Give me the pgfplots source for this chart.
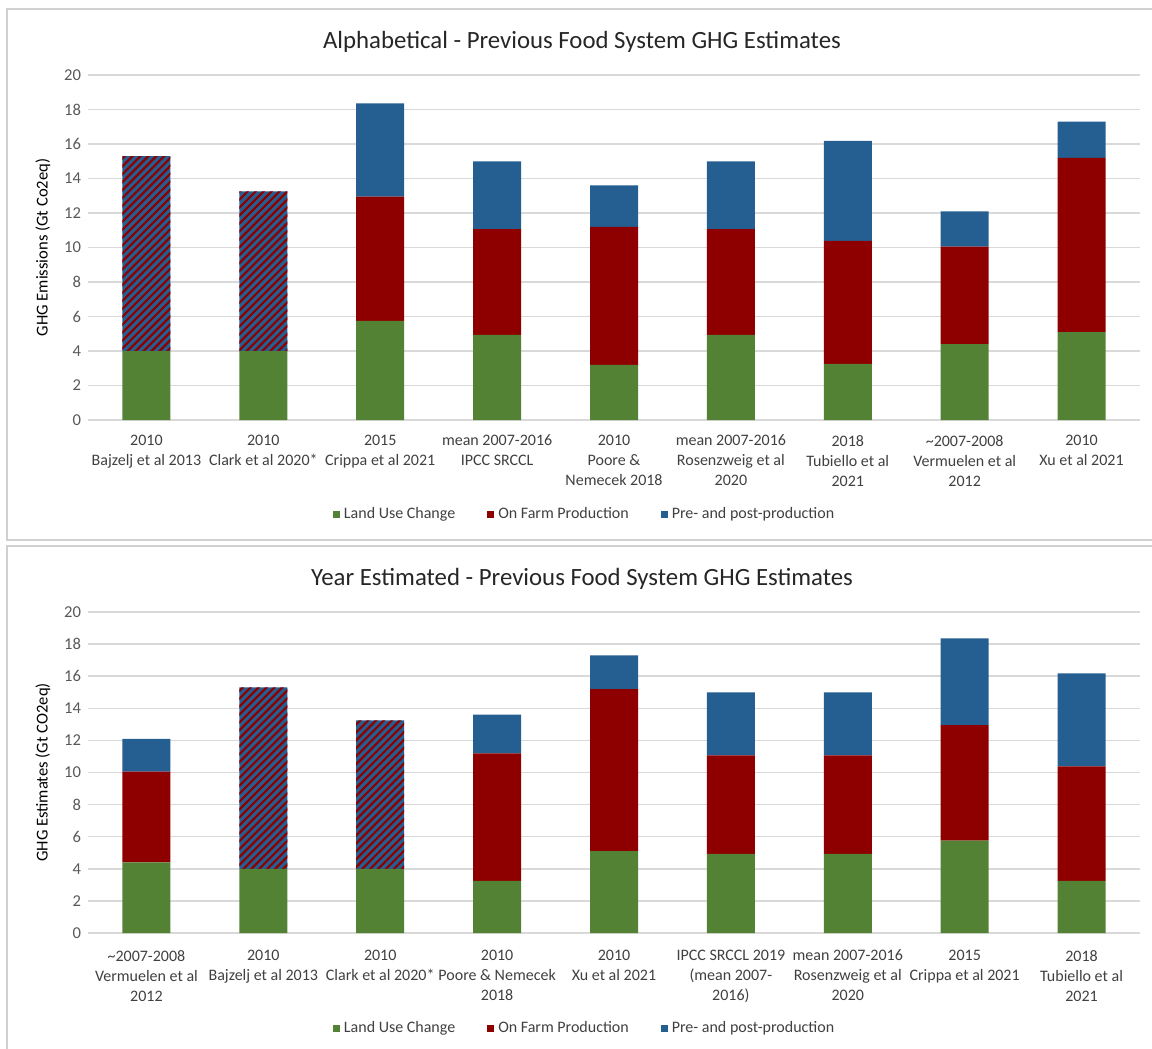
\documentclass[border=0pt]{standalone}
\usepackage{pgfplots}
\pgfplotsset{compat=1.18}
\usepackage{fontspec}
\setmainfont{Carlito}
\usetikzlibrary{patterns.meta}
\definecolor{luc}{HTML}{548235}
\definecolor{farm}{HTML}{8E0000}
\definecolor{pre}{HTML}{255E91}
\definecolor{gridc}{HTML}{D9D9D9}
\definecolor{framec}{HTML}{D0D0D0}
\definecolor{txt}{HTML}{595959}
\definecolor{txtd}{HTML}{404040}
\pgfplotsset{ghg/.style={
  scale only axis, width=526pt,
  xmin=-0.5, xmax=8.5, ymin=0, ymax=20, ytick={0,2,...,20},
  ybar stacked, bar width=24pt,
  axis line style={draw=none}, tick style={draw=none},
  ymajorgrids, grid style={gridc, line width=0.75pt},
  xtick={0,...,8},
  xticklabel style={align=center, font=\fontsize{8}{10}\selectfont, text=txtd, yshift=-4pt},
  yticklabel style={font=\fontsize{8.3}{10}\selectfont, text=txt},
  /pgf/number format/assume math mode=true,
  ylabel style={font=\fontsize{8.3}{10}\selectfont, text=black},
  title style={font=\fontsize{12.4}{14}\selectfont, text=black!85, anchor=center, at={(0.5,1)}, yshift=10.5pt, xshift=-16pt},
  legend style={draw=none, fill=none, legend columns=-1, font=\fontsize{8}{10}\selectfont, text=txtd, anchor=center,
    /tikz/every even column/.append style={column sep=14pt}},
  legend image code/.code={\fill[##1] (0pt,-1.75pt) rectangle (3.5pt,1.75pt);},
  hatch/.style={fill=pre, draw=none, postaction={pattern color=farm, pattern={Lines[angle=45,distance=2.8pt,line width=1.1pt]}}},
}}
\begin{document}
\begin{tikzpicture}
\path[use as bounding box] (0pt,0pt) rectangle (576pt,-524.5pt);
\draw[framec, line width=0.75pt] (3.5pt,-4.5pt) rectangle (590pt,-270pt);
\draw[framec, line width=0.75pt] (3.5pt,-273pt) rectangle (590pt,-540pt);
% Top chart
\begin{axis}[ghg, at={(44pt,-210pt)}, anchor=south west, height=172.5pt,
  title={Alphabetical - Previous Food System GHG Estimates},
  ylabel={GHG Emissions (Gt Co2eq)},
  xticklabels={{2010\\Bajzelj et al 2013},{2010\\Clark et al 2020*},{2015\\Crippa et al 2021},{mean 2007-2016\\IPCC SRCCL},{2010\\Poore \&\\Nemecek 2018},{mean 2007-2016\\Rosenzweig et al\\2020},{2018\\Tubiello et al\\2021},{\textasciitilde2007-2008\\Vermuelen et al\\2012},{2010\\Xu et al 2021}},
  legend style={at={(0.473,-0.275)}}]
\addplot[fill=luc, draw=none] coordinates {(0,4.0) (1,4.0) (2,5.75) (3,4.93) (4,3.2) (5,4.93) (6,3.25) (7,4.4) (8,5.1)};
\addplot[fill=farm, draw=none] coordinates {(0,0) (1,0) (2,7.2) (3,6.14) (4,8.0) (5,6.14) (6,7.13) (7,5.65) (8,10.1)};
\addplot[fill=pre, draw=none] coordinates {(0,0) (1,0) (2,5.4) (3,3.93) (4,2.4) (5,3.93) (6,5.8) (7,2.05) (8,2.1)};
\addplot[hatch] coordinates {(0,11.3) (1,9.25) (2,0) (3,0) (4,0) (5,0) (6,0) (7,0) (8,0)};
\legend{Land Use Change, On Farm Production, Pre- and post-production}
\end{axis}
% Bottom chart
\begin{axis}[ghg, at={(44pt,-466.5pt)}, anchor=south west, height=160.5pt,
  title={Year Estimated - Previous Food System GHG Estimates},
  ylabel={GHG Estimates (Gt CO2eq)},
  xticklabel style={yshift=-1pt},
  xticklabels={{\textasciitilde2007-2008\\Vermuelen et al\\2012},{2010\\Bajzelj et al 2013},{2010\\Clark et al 2020*},{2010\\Poore \& Nemecek\\2018},{2010\\Xu et al 2021},{IPCC SRCCL 2019\\(mean 2007-\\2016)},{mean 2007-2016\\Rosenzweig et al\\2020},{2015\\Crippa et al 2021},{2018\\Tubiello et al\\2021}},
  legend style={at={(0.473,-0.296)}}]
\addplot[fill=luc, draw=none] coordinates {(0,4.4) (1,4.0) (2,4.0) (3,3.25) (4,5.1) (5,4.93) (6,4.93) (7,5.75) (8,3.25)};
\addplot[fill=farm, draw=none] coordinates {(0,5.65) (1,0) (2,0) (3,7.95) (4,10.1) (5,6.14) (6,6.14) (7,7.2) (8,7.13)};
\addplot[fill=pre, draw=none] coordinates {(0,2.05) (1,0) (2,0) (3,2.4) (4,2.1) (5,3.93) (6,3.93) (7,5.4) (8,5.8)};
\addplot[hatch] coordinates {(0,0) (1,11.3) (2,9.25) (3,0) (4,0) (5,0) (6,0) (7,0) (8,0)};
\legend{Land Use Change, On Farm Production, Pre- and post-production}
\end{axis}
\end{tikzpicture}
\end{document}
